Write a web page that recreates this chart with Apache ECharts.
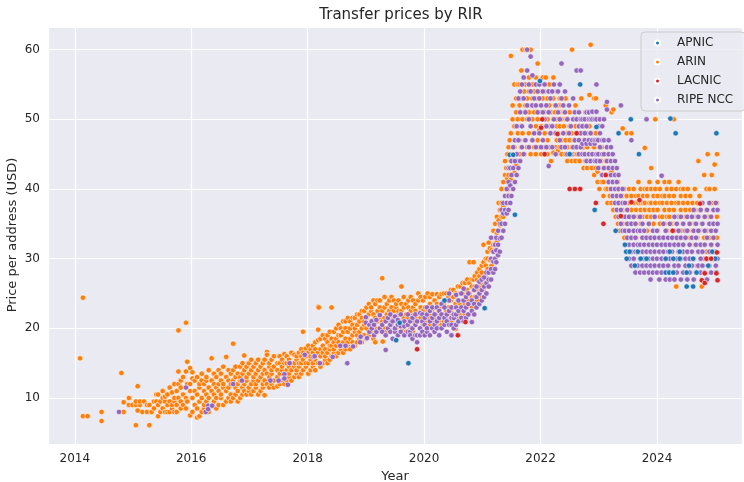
<!DOCTYPE html>
<html>
<head>
<meta charset="utf-8">
<script src="https://cdn.jsdelivr.net/npm/echarts@6/dist/echarts.min.js"></script>
<style>
  html, body { margin: 0; padding: 0; background: #fff; }
  #chart { width: 744px; height: 482px; }
</style>
</head>
<body>
<div id="chart"></div>
<script>
// each entry: [year, price, price, ...] = transfers at that date
const arinCols = [
  [2014.09, 15.7], [2014.14, 24.4, 7.4], [2014.22, 7.4], [2014.46, 8, 6.7], [2014.80, 13.6],
  [2014.84, 8, 9.4], [2014.93, 10, 9], [2014.99, 9], [2015.05, 9, 9.5, 6.1], [2015.08, 8.2, 11.7],
  [2015.12, 9, 9.5], [2015.16, 8], [2015.19, 9.5], [2015.24, 8, 9], [2015.28, 6.1, 9], [2015.32, 8],
  [2015.36, 9.5, 8.5], [2015.40, 9.5, 10.5], [2015.43, 7.4, 10.5, 9], [2015.47, 8, 9.5],
  [2015.51, 8.5, 10, 11], [2015.55, 8, 9.5, 10.2], [2015.59, 9, 10.5, 8], [2015.63, 8, 9.5, 11.5],
  [2015.67, 10.8, 8.5, 9], [2015.71, 8, 9.5, 10, 12], [2015.75, 8, 11, 9], [2015.78, 19.7, 13.8, 12, 10],
  [2015.82, 8.5, 9.5, 11.5, 12.5], [2015.86, 9, 10.5, 13], [2015.91, 20.8, 13.8, 10, 8.5],
  [2015.93, 15.2, 12, 9.5], [2015.98, 7.5, 12, 14.3, 11], [2016.02, 13.7, 8, 10, 12.8],
  [2016.06, 9, 11, 12.5], [2016.10, 7.2, 8.5, 10.5, 13], [2016.14, 7.4, 9.5, 11.5, 12],
  [2016.18, 8, 10, 12.5, 13.5], [2016.22, 8.5, 9, 11, 12], [2016.26, 9.5, 10.5, 12.5, 13],
  [2016.30, 8, 10, 11.5, 14], [2016.35, 15.7, 9, 11, 12.5], [2016.39, 9.5, 10.5, 12, 13.5],
  [2016.43, 8.5, 10, 11.5, 13], [2016.47, 9, 11, 12, 14], [2016.51, 10, 10.5, 12.5, 13.5],
  [2016.55, 9, 11.5, 12, 14.5], [2016.60, 15.9, 9.5, 11, 13], [2016.64, 10, 11.5, 12.5, 14],
  [2016.68, 9.5, 10.5, 12, 13.5], [2016.72, 17.8, 10, 12.5, 14], [2016.76, 10.5, 11.5, 13, 14.5],
  [2016.80, 9.5, 11, 12, 13.5], [2016.84, 10, 12.5, 13, 14.5], [2016.88, 10.5, 11.5, 13.5, 15],
  [2016.91, 16.1, 11, 12, 14], [2016.95, 10.5, 12.5, 13, 14.5], [2016.99, 11, 11.5, 13.5, 15],
  [2017.03, 10.5, 12, 14, 15.5], [2017.07, 11, 12.5, 13, 14.5], [2017.11, 11.5, 12, 13.5, 15],
  [2017.15, 10.5, 12.5, 14, 15.5], [2017.19, 11, 13, 14.5], [2017.23, 11.5, 12, 13.5, 15],
  [2017.26, 10.4, 12.5, 14, 15.5], [2017.30, 16.6, 16.2, 12, 13.5], [2017.34, 11.5, 13, 14.5, 15],
  [2017.38, 12, 13.5, 14, 15.5], [2017.42, 11.5, 12.5, 14.5, 16], [2017.48, 11.7, 13, 14, 15],
  [2017.52, 12, 13.5, 15, 16], [2017.56, 12.5, 14, 14.5, 15.5], [2017.60, 16.3, 12, 13.5, 15],
  [2017.64, 12.5, 14, 15, 16], [2017.68, 13, 13.5, 14.5, 15.5], [2017.72, 12.5, 14, 15, 16.5],
  [2017.77, 16.2, 13, 14.5, 15], [2017.81, 13.5, 14, 15.5, 16], [2017.85, 13, 14.5, 15, 16.5],
  [2017.89, 13.5, 15, 16, 17], [2017.92, 19.5, 14, 15.5, 16.5], [2017.97, 17.1, 14.5, 15, 16],
  [2018.01, 13.5, 15, 16.5, 17.5], [2018.05, 14, 15.5, 16, 17], [2018.09, 14.5, 15, 16.5, 17.5],
  [2018.13, 14, 15.5, 17, 18], [2018.18, 23.1, 19.8, 18.3, 15, 16.5], [2018.19, 23],
  [2018.22, 14.5, 16, 17, 18.5], [2018.26, 15, 16.5, 17.5, 19], [2018.30, 15.5, 16, 17, 18.5],
  [2018.34, 15, 16.5, 18, 19], [2018.38, 15.5, 17, 17.5, 19.5], [2018.41, 23, 16, 17.5, 18.5],
  [2018.45, 16.5, 17, 18, 19.5], [2018.49, 16, 17.5, 18.5, 20], [2018.53, 16.5, 18, 19, 20.5],
  [2018.57, 17, 17.5, 19, 20], [2018.61, 16.5, 18, 19.5, 21], [2018.65, 17, 18.5, 20, 21],
  [2018.69, 17.5, 18, 19.5, 21.5], [2018.73, 17, 18.5, 20, 21], [2018.77, 18, 19, 20.5, 21.5],
  [2018.81, 17.5, 19.5, 20, 21.5], [2018.85, 18, 19, 20.5, 22], [2018.89, 18.5, 19.5, 21, 22],
  [2018.93, 18, 20, 21.5, 22.5], [2018.97, 19, 20.5, 21, 22.5], [2019.01, 18.5, 20, 21.5, 23],
  [2019.05, 19, 20.5, 22, 23.5], [2019.09, 19.5, 21, 22.5, 23], [2019.13, 18.5, 20.5, 22, 24],
  [2019.16, 18, 20, 21.5, 23.5], [2019.20, 19.5, 21, 22.5, 24], [2019.24, 20, 21.5, 23, 24],
  [2019.28, 27.2, 19.5, 21, 22.5], [2019.29, 18.1], [2019.32, 20, 21.5, 23, 24.5],
  [2019.36, 19.5, 21, 22, 23.5], [2019.40, 20, 21.5, 22.5, 24], [2019.44, 20.5, 21, 23, 24.5],
  [2019.48, 19.5, 21.5, 22.5, 24], [2019.52, 20, 21, 23, 23.5], [2019.56, 20.5, 22, 22.5, 24],
  [2019.61, 26, 21, 22.5, 23.5], [2019.65, 20, 21.5, 23, 24.5], [2019.69, 19.5, 21, 22, 23.5],
  [2019.73, 20.5, 21.5, 23, 24], [2019.77, 20, 22, 22.5, 24.5], [2019.81, 19.5, 21, 23, 24],
  [2019.85, 20.5, 21.5, 22.5, 23.5], [2019.90, 25, 21, 22, 24], [2019.94, 20, 21.5, 23, 24.5],
  [2019.98, 20.5, 22, 22.5, 24], [2020.02, 19.5, 21, 23, 24.5], [2020.06, 20, 21.5, 22.5, 25],
  [2020.10, 20.5, 22, 23.5, 24.5], [2020.14, 24.9, 21, 22.5, 23], [2020.18, 20, 21.5, 23, 24],
  [2020.22, 24.9, 20.5, 22, 23.5], [2020.26, 21, 22.5, 23, 24.5], [2020.30, 24.9, 20.5, 22, 23.5],
  [2020.34, 21, 22, 23.5, 25], [2020.38, 21.5, 22.5, 24, 25], [2020.42, 20.5, 22, 23, 24.5],
  [2020.46, 21, 22.5, 24, 25.5], [2020.50, 21.5, 23, 24.5, 25.5], [2020.54, 19.9, 22, 23.5, 25],
  [2020.58, 21.5, 23, 24, 26], [2020.62, 22, 23.5, 25, 26], [2020.66, 22.5, 24, 25, 26.5],
  [2020.70, 22, 23.5, 25.5, 26.5], [2020.74, 23, 24, 25.5, 27], [2020.78, 29.5, 23.5, 25, 26.5],
  [2020.82, 23, 24.5, 26, 27], [2020.85, 29.5, 24, 25.5, 27], [2020.87, 27.5, 24.5, 26],
  [2020.91, 24, 25.5, 27, 28], [2020.95, 25, 26, 27.5, 28.5], [2020.99, 24.5, 26.5, 28, 29],
  [2021.02, 32, 25.5, 27, 29.5], [2021.06, 26, 27.5, 29, 30], [2021.09, 27, 28.5, 30, 31],
  [2021.11, 32.3], [2021.13, 28, 29.8, 31.5], [2021.16, 31.2, 29, 33], [2021.19, 30, 32, 34],
  [2021.22, 32.2, 31, 35], [2021.25, 33.7, 32.5, 36], [2021.28, 34, 35.5, 38], [2021.30, 34.8, 33, 37],
  [2021.33, 36, 38, 40], [2021.36, 36, 37.5, 41], [2021.39, 44, 37, 39, 42], [2021.41, 37, 40, 43],
  [2021.43, 38, 41.5, 45], [2021.45, 39.1, 40, 42, 46], [2021.47, 40.3, 43, 47],
  [2021.49, 59.1, 41.3, 44, 48], [2021.52, 42, 45, 50, 52], [2021.55, 42.3, 46, 49, 55],
  [2021.58, 43.4, 47, 51, 53], [2021.61, 44, 48, 50, 55], [2021.64, 45, 47, 52, 55],
  [2021.67, 46, 49, 53, 57], [2021.69, 60, 48, 50, 55], [2021.72, 45, 51, 54, 56],
  [2021.74, 60, 47, 52, 55], [2021.77, 60, 46, 50, 53], [2021.80, 48, 51, 54, 56],
  [2021.83, 60, 45, 49, 52], [2021.86, 47, 50, 53, 55], [2021.89, 46, 48, 51, 54],
  [2021.92, 45, 49, 52, 56], [2021.95, 58, 47, 50, 53], [2021.98, 46, 48.5, 51, 55],
  [2022.01, 45, 49, 52, 54], [2022.04, 47, 50, 53, 56], [2022.07, 46, 48, 51, 54],
  [2022.09, 56, 49, 52], [2022.12, 45, 47, 50, 53], [2022.15, 46, 49, 52, 55],
  [2022.18, 44, 48, 51, 54], [2022.22, 56, 45.2, 50, 53], [2022.25, 46, 48, 51, 52],
  [2022.28, 47, 49, 50, 54], [2022.30, 45.5, 48, 52], [2022.33, 46, 49, 51, 53],
  [2022.36, 45, 47, 50, 52], [2022.40, 46, 48, 49, 51], [2022.43, 45, 47, 50, 53],
  [2022.46, 44, 46, 48, 50], [2022.50, 45, 47, 49, 51], [2022.54, 60, 44, 46, 48],
  [2022.57, 45, 47, 50], [2022.60, 44, 46, 49, 52], [2022.63, 45, 48, 50], [2022.67, 44, 46, 47, 49],
  [2022.70, 45, 48, 50, 53], [2022.74, 43, 46, 47, 49], [2022.77, 44, 45, 48, 51],
  [2022.80, 43, 46, 48, 50], [2022.84, 53.5, 44, 47, 49], [2022.86, 60.7], [2022.88, 43, 45, 48, 50],
  [2022.92, 53, 42, 44, 46], [2022.95, 53, 43, 45, 48], [2022.98, 41, 42.5, 44, 47],
  [2023.01, 40, 43, 45, 50], [2023.05, 41, 42, 44, 46], [2023.08, 39, 41, 43, 45],
  [2023.12, 40, 42, 44, 52], [2023.15, 38, 40, 43, 45], [2023.19, 39, 41, 42, 44],
  [2023.22, 38, 40, 42.5, 51], [2023.25, 51.4, 37, 39, 41], [2023.29, 36, 38, 40, 42],
  [2023.33, 35, 37, 39, 41], [2023.36, 34, 36, 38, 40], [2023.41, 48.7, 35, 37, 39],
  [2023.44, 33, 36, 38, 40], [2023.48, 48, 34, 37, 39], [2023.52, 33, 35, 38, 40],
  [2023.56, 48, 36, 37, 39], [2023.60, 34, 36, 38, 40], [2023.64, 33, 35, 37, 39],
  [2023.68, 36, 38, 39, 41], [2023.72, 35, 37, 38, 40], [2023.76, 33, 36, 38, 39],
  [2023.79, 45.9, 37, 38, 40], [2023.83, 34, 36, 39, 40], [2023.87, 35, 37, 38, 41],
  [2023.90, 43, 36, 38, 40], [2023.94, 33, 35, 37, 39], [2023.97, 50, 36, 38, 40],
  [2024.01, 34, 37, 39, 41], [2024.05, 35, 36, 38, 40], [2024.09, 33, 36, 38, 39],
  [2024.13, 35, 37, 39, 41], [2024.17, 34, 36, 38, 40], [2024.21, 36, 37, 39, 41],
  [2024.25, 33, 35, 38, 40], [2024.29, 50, 34, 37, 39], [2024.33, 26, 35, 38, 40],
  [2024.37, 33, 36, 38, 41], [2024.41, 34, 37, 39, 40], [2024.45, 32, 35, 38, 40],
  [2024.49, 33, 36, 37, 39], [2024.53, 31, 34, 38, 40], [2024.57, 33, 35, 37, 39],
  [2024.61, 30, 34, 36, 38], [2024.65, 32, 35, 37, 40], [2024.69, 29, 33, 36, 38], [2024.71, 44],
  [2024.73, 31, 34, 37, 39], [2024.77, 26, 32, 35, 38], [2024.81, 30, 33, 36, 42],
  [2024.85, 31, 34, 37, 40], [2024.87, 45], [2024.90, 29, 33, 36, 40], [2024.94, 32, 35, 38, 42],
  [2024.99, 43.5, 30, 34, 40], [2025.03, 45, 33, 36, 38]
];

const ripeCols = [
  [2014.76, 8], [2015.91, 11.5], [2016.25, 8], [2016.29, 8.9, 8.4], [2016.36, 8.9], [2016.72, 12],
  [2016.87, 12.5], [2017.36, 12.5], [2017.50, 12.5], [2017.60, 13.4, 12.8], [2017.66, 11.9],
  [2017.69, 15], [2017.95, 16.2], [2018.10, 15.9], [2018.12, 16], [2018.21, 15], [2018.43, 15.9],
  [2018.56, 17.5], [2018.65, 17.5], [2018.68, 15], [2018.78, 17.4], [2018.90, 18], [2018.91, 18.8],
  [2019.00, 21.6, 20.8], [2019.01, 18.5], [2019.02, 18.6], [2019.06, 19.5, 20.5], [2019.10, 20, 21],
  [2019.14, 19, 20.5], [2019.18, 21.2, 19.5], [2019.24, 21.9, 20], [2019.28, 19.5, 20.5],
  [2019.34, 19, 16.9, 21], [2019.38, 20, 21.5], [2019.42, 19.5, 20.5, 22], [2019.46, 18.5, 21],
  [2019.50, 19.5, 20, 21.7], [2019.55, 21.2, 19, 20.5], [2019.60, 20.3, 19.5, 22],
  [2019.66, 20.3, 19, 21], [2019.72, 19.5, 20.5, 22], [2019.76, 19.5, 19, 21], [2019.80, 18.5, 20, 21.5],
  [2019.85, 19, 20.5, 22], [2019.88, 18, 19, 21], [2019.93, 19, 20, 22.2], [2019.97, 19.5, 21, 22],
  [2020.01, 19, 20.5, 21.5], [2020.05, 19.5, 20, 22, 23], [2020.10, 19, 21, 22.5], [2020.14, 23, 20, 21.5],
  [2020.18, 19.5, 20.5, 22], [2020.22, 23, 20, 21], [2020.26, 19, 21.5, 22.5], [2020.30, 20, 22, 23.5],
  [2020.35, 23, 20.5, 21.5], [2020.39, 19.5, 21, 22], [2020.43, 25, 24, 20.5, 22.5],
  [2020.47, 19, 20.5, 21.5, 23], [2020.51, 20, 21.5, 22], [2020.55, 24.8, 20.5, 22, 23],
  [2020.59, 21, 22.5, 24], [2020.64, 25, 21.5, 23], [2020.68, 25.7, 21, 22.5, 24],
  [2020.72, 21.5, 23, 24.5], [2020.76, 22, 23.5, 25], [2020.82, 20.9, 22.5, 24], [2020.86, 22, 23.5, 25.5],
  [2020.90, 23, 24.5, 26], [2020.95, 26.7, 23.5, 25], [2020.99, 24, 25.5, 27], [2021.03, 27.3, 24.5, 26],
  [2021.07, 25, 26.5, 28], [2021.11, 28, 26, 27], [2021.15, 28.5, 27, 33, 30], [2021.19, 29.6, 28, 31],
  [2021.22, 30, 32, 28.5], [2021.24, 31.2, 29.5, 33], [2021.27, 30.5, 32, 34], [2021.30, 32.9, 31, 35],
  [2021.33, 33, 35, 37], [2021.36, 34, 36.5, 38], [2021.39, 35, 37, 39], [2021.42, 36.5, 38, 40],
  [2021.45, 37, 39, 41, 43], [2021.48, 38, 40.5, 43], [2021.50, 39, 42, 44], [2021.53, 40, 43, 46],
  [2021.56, 41, 44, 47], [2021.59, 42, 45, 49], [2021.62, 43, 47, 53], [2021.65, 44, 51, 54],
  [2021.68, 46, 49, 55], [2021.71, 45, 53, 56], [2021.74, 47, 51], [2021.77, 57, 60, 52],
  [2021.80, 46, 50, 55], [2021.83, 59, 49, 54], [2021.86, 56.3, 47, 52], [2021.89, 48, 53],
  [2021.92, 46, 52, 55], [2021.95, 51, 54], [2021.98, 48, 53, 55], [2022.01, 46, 52],
  [2022.04, 47, 51, 54], [2022.07, 50, 55], [2022.10, 46, 49, 52], [2022.14, 43.3, 51, 54],
  [2022.17, 48, 53], [2022.20, 46, 49, 54], [2022.23, 50, 55], [2022.26, 45, 48, 52],
  [2022.30, 51, 54], [2022.33, 47, 50, 55], [2022.36, 58, 46, 53], [2022.39, 48, 52],
  [2022.42, 46, 51, 54], [2022.46, 45, 50], [2022.49, 48, 52], [2022.52, 45, 49],
  [2022.56, 46, 50, 53], [2022.59, 47, 51], [2022.62, 57, 46, 48, 50], [2022.66, 45, 47, 49, 51],
  [2022.69, 57, 46, 48, 50], [2022.72, 45, 46.5, 49, 50], [2022.76, 45, 47, 48, 50],
  [2022.79, 44, 46.5, 49, 51], [2022.83, 45, 47, 50, 51], [2022.86, 44, 46.5, 48, 50],
  [2022.89, 45, 47, 50, 51.1], [2022.93, 44, 46.5, 47, 50], [2022.96, 55, 45, 47, 50, 51.1, 44],
  [2022.99, 43, 45, 47, 49], [2023.02, 44, 46, 48, 50], [2023.06, 42, 45, 47, 49],
  [2023.09, 50, 43, 45, 47], [2023.14, 52.5, 51.4, 42, 44, 46], [2023.17, 41, 43, 45, 47],
  [2023.21, 40, 42, 44, 46], [2023.24, 39, 41, 43, 45], [2023.28, 38, 40, 42, 44],
  [2023.31, 37, 39, 41, 43], [2023.34, 36, 38, 40, 42], [2023.38, 52, 35, 37, 39],
  [2023.41, 34, 36, 38, 40], [2023.45, 32, 34, 36, 38], [2023.49, 31, 33, 35, 37],
  [2023.52, 30, 32, 34, 36], [2023.56, 47, 29, 31, 33, 35], [2023.60, 30, 32, 34, 36],
  [2023.63, 28, 31, 33, 35], [2023.67, 29, 31, 32, 34], [2023.71, 28, 30, 32, 34, 36],
  [2023.75, 29, 31, 33, 35], [2023.78, 28, 30, 32, 34], [2023.82, 50, 29, 31, 33],
  [2023.86, 28, 30, 32, 35], [2023.89, 27, 29, 31, 33], [2023.93, 28, 30, 32, 34],
  [2023.96, 29, 31, 33, 36], [2024.00, 28, 30, 32, 34], [2024.04, 27, 29, 31, 33],
  [2024.08, 41.9, 28, 30, 32], [2024.11, 29, 31, 33, 35], [2024.15, 27, 30, 32, 34],
  [2024.19, 28, 29, 31, 33], [2024.22, 27, 30, 32, 35], [2024.26, 28, 31, 33, 34],
  [2024.30, 27, 29, 32, 36], [2024.34, 28, 30, 33, 35], [2024.37, 29, 31, 32, 34],
  [2024.41, 27, 30, 33, 36], [2024.45, 28, 31, 32, 35], [2024.49, 29, 30, 33, 34],
  [2024.52, 27, 31, 34, 36], [2024.56, 28, 30, 32, 35], [2024.60, 29, 31, 33, 36],
  [2024.63, 27, 30, 34, 37], [2024.67, 28, 32, 33, 35], [2024.71, 29, 31, 34, 36],
  [2024.75, 28, 30, 32, 37], [2024.78, 29, 31, 35, 38], [2024.82, 28, 32, 34, 36],
  [2024.86, 27, 30, 33, 37], [2024.90, 29, 31, 35, 38], [2024.93, 28, 32, 34, 36],
  [2024.97, 30, 33, 35, 37], [2025.01, 29, 31, 34, 38], [2025.04, 30, 32, 35, 37]
];

const apnicCols = [
  [2019.52, 18.3], [2019.58, 20.8], [2019.73, 15], [2020.35, 24], [2021.04, 22.9], [2021.47, 44.9],
  [2021.53, 44.9], [2021.56, 36.3], [2021.99, 55.5], [2022.50, 45], [2022.68, 55], [2022.93, 37],
  [2022.96, 48.9], [2023.29, 34], [2023.34, 48], [2023.45, 32], [2023.47, 31], [2023.48, 30],
  [2023.53, 31], [2023.55, 50], [2023.62, 29], [2023.67, 31], [2023.69, 45], [2023.72, 30],
  [2023.82, 30], [2024.15, 30, 28], [2024.21, 28], [2024.22, 31], [2024.23, 50.1], [2024.28, 30, 28],
  [2024.32, 48], [2024.39, 30, 31], [2024.51, 28, 26], [2024.55, 29], [2024.62, 30, 26], [2024.68, 28],
  [2024.88, 29], [2024.95, 31], [2025.00, 30], [2025.02, 48, 28]
];

const lacnicCols = [
  [2019.88, 17], [2020.58, 19], [2020.71, 20.9], [2022.01, 48.8], [2022.03, 50], [2022.07, 45],
  [2022.29, 47.9], [2022.50, 40], [2022.59, 40], [2022.62, 48], [2022.68, 40], [2022.95, 38],
  [2023.08, 35], [2023.12, 42], [2023.38, 36.1], [2023.56, 38.1], [2023.70, 38.4], [2024.27, 34],
  [2024.74, 37.9], [2024.77, 26.9], [2024.82, 26.5, 27.9], [2024.85, 30], [2024.93, 30],
  [2025.02, 27.9], [2025.03, 30.9], [2025.04, 26.9]
];

const legendNames = ['APNIC', 'ARIN', 'LACNIC', 'RIPE NCC'];
const rirColors = { 'APNIC': '#1f77b4', 'ARIN': '#ff7f0e', 'LACNIC': '#d62728', 'RIPE NCC': '#9467bd' };

const toPoints = cols => cols.flatMap(c => c.slice(1).map(p => [c[0], p]));

const FONT = 'DejaVu Sans';
const INK = '#262626';

const chart = echarts.init(document.getElementById('chart'), null, { renderer: 'canvas' });

const makeSeries = (name, cols) => ({
  name,
  type: 'scatter',
  data: toPoints(cols),
  symbol: 'circle',
  symbolSize: 5.5,
  itemStyle: { color: rirColors[name], borderColor: '#ffffff', borderWidth: 0.6, opacity: 1 },
  emphasis: { disabled: true }
});

chart.setOption({
  backgroundColor: '#ffffff',
  animation: false,
  title: {
    text: 'Transfer prices by RIR',
    left: 396,
    top: 3,
    textAlign: 'center',
    textStyle: { fontFamily: FONT, fontSize: 15, fontWeight: 'normal', color: INK }
  },
  // y axis title placed by hand: v6 keeps pushing the axis name to the canvas edge
  graphic: [{
    type: 'text',
    x: 13,
    y: 235,
    rotation: Math.PI / 2,
    style: {
      text: 'Price per address (USD)',
      fill: INK,
      font: '13px "DejaVu Sans"',
      align: 'center',
      verticalAlign: 'middle'
    }
  }],
  legend: {
    data: legendNames,
    orient: 'vertical',
    left: 641,
    top: 32,
    icon: 'circle',
    itemWidth: 29,
    itemHeight: 5,
    itemGap: 7,
    padding: [5, 12, 5, 13],
    backgroundColor: 'rgba(234,234,242,0.8)',
    borderColor: '#cccccc',
    borderWidth: 1,
    borderRadius: 4,
    textStyle: { fontFamily: FONT, fontSize: 12, color: INK }
  },
  grid: {
    left: 48,
    right: 2,
    top: 27,
    bottom: 38,
    outerBoundsMode: 'none',
    show: true,
    backgroundColor: '#eaeaf2',
    borderWidth: 0
  },
  xAxis: {
    type: 'value',
    min: 2013.54,
    max: 2025.46,
    splitNumber: 5,
    name: 'Year',
    nameLocation: 'middle',
    nameGap: 26,
    nameTextStyle: { fontFamily: FONT, fontSize: 13, color: INK },
    axisLine: { show: false },
    axisTick: { show: false },
    axisLabel: {
      fontFamily: FONT, fontSize: 12, color: INK, margin: 9,
      showMinLabel: false, showMaxLabel: false,
      formatter: v => String(v)
    },
    splitLine: { show: true, lineStyle: { color: '#ffffff', width: 1.2 } }
  },
  yAxis: {
    type: 'value',
    min: 3.4,
    max: 63.25,
    splitNumber: 5,
    axisLine: { show: false },
    axisTick: { show: false },
    axisLabel: { fontFamily: FONT, fontSize: 12, color: INK, margin: 8, showMinLabel: false, showMaxLabel: false },
    splitLine: { show: true, lineStyle: { color: '#ffffff', width: 1.2 } }
  },
  series: [
    makeSeries('ARIN', arinCols),
    makeSeries('RIPE NCC', ripeCols),
    makeSeries('APNIC', apnicCols),
    makeSeries('LACNIC', lacnicCols)
  ]
});
</script>
</body>
</html>
